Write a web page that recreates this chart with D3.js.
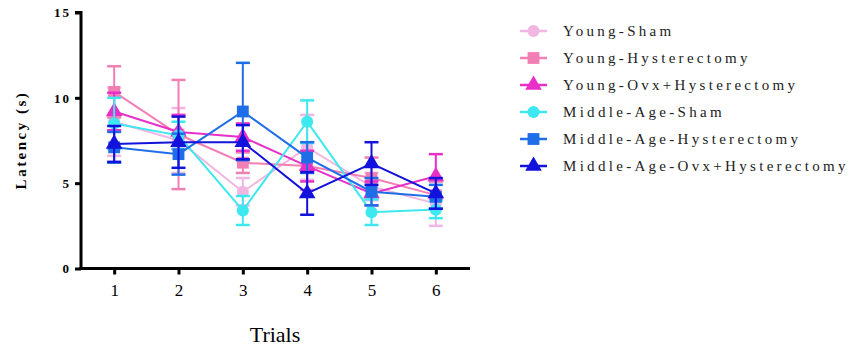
<!DOCTYPE html>
<html><head><meta charset="utf-8">
<script src="https://cdn.jsdelivr.net/npm/d3@7"></script>
<style>body{margin:0;background:#fff}svg{display:block}</style>
</head><body>
<script>
const trials = [1, 2, 3, 4, 5, 6];
const yTicks = [0, 5, 10, 15];
const seriesNames = ["Young-Sham", "Young-Hysterectomy", "Young-Ovx+Hysterectomy", "Middle-Age-Sham", "Middle-Age-Hysterectomy", "Middle-Age-Ovx+Hysterectomy"];
const seriesColors = ["#f2b6e2", "#f27fb4", "#e830c8", "#3ee8f0", "#1f6ee8", "#1212dc"];
const seriesShapes = ["circle", "square", "triangle", "circle", "square", "triangle"];
const youngSham = [8.6, 7.5, 4.5, 7.1, 4.8, 3.8];
const youngSham_sem = [2.0, 1.9, 0.8, 1.9, 0.8, 1.3];
const youngHyst = [10.35, 7.85, 6.2, 6.0, 5.3, 4.3];
const youngHyst_sem = [1.5, 3.2, 0.6, 1.4, 1.2, 0.8];
const youngOvx = [9.2, 8.0, 7.7, 6.0, 4.4, 5.4];
const youngOvx_sem = [1.1, 1.0, 0.8, 0.9, 0.7, 1.3];
const middleSham = [8.5, 7.8, 3.4, 8.6, 3.3, 3.45];
const middleSham_sem = [1.5, 0.8, 0.85, 1.25, 0.75, 0.5];
const middleHyst = [7.1, 6.7, 9.2, 6.5, 4.5, 4.2];
const middleHyst_sem = [0.9, 1.2, 2.85, 0.9, 0.8, 0.7];
const middleOvx = [7.3, 7.4, 7.4, 4.4, 6.15, 4.4];
const middleOvx_sem = [1.05, 1.5, 1.0, 1.25, 1.25, 0.9];

const means = [youngSham, youngHyst, youngOvx, middleSham, middleHyst, middleOvx];
const sems = [youngSham_sem, youngHyst_sem, youngOvx_sem, middleSham_sem, middleHyst_sem, middleOvx_sem];

const FONT = "Liberation Serif";
const W = 852, H = 350;
const svg = d3.select("body").append("svg").attr("width", W).attr("height", H);
const x = d3.scaleLinear().domain([0.5, 6.5]).range([82, 468]);
const y = d3.scaleLinear().domain([0, 15]).range([268.5, 12.5]);

const symbolFor = s => s === "circle" ? d3.symbolCircle : s === "square" ? d3.symbolSquare : d3.symbolTriangle;
const sizeFor = s => s === "circle" ? 115 : s === "square" ? 140 : 120;

const series = seriesNames.map((n, i) => ({
  name: n, color: seriesColors[i], shape: seriesShapes[i],
  pts: trials.map((t, j) => ({t, m: means[i][j], e: sems[i][j]}))
}));

const plot = svg.append("g");
const line = d3.line().x(d => x(d.t)).y(d => y(d.m));
series.forEach(s => {
  const g = plot.append("g");
  s.pts.forEach(p => {
    g.append("line").attr("x1", x(p.t)).attr("x2", x(p.t)).attr("y1", y(p.m - p.e)).attr("y2", y(p.m + p.e))
      .attr("stroke", s.color).attr("stroke-width", 2);
    [p.m - p.e, p.m + p.e].forEach(v => {
      g.append("line").attr("x1", x(p.t) - 7).attr("x2", x(p.t) + 7).attr("y1", y(v)).attr("y2", y(v))
        .attr("stroke", s.color).attr("stroke-width", 2.5);
    });
  });
  g.append("path").datum(s.pts).attr("d", line).attr("fill", "none").attr("stroke", s.color).attr("stroke-width", 2);
  g.selectAll("path.m").data(s.pts).join("path").attr("class", "m")
    .attr("transform", p => `translate(${x(p.t)},${y(p.m)})`)
    .attr("d", d3.symbol(symbolFor(s.shape), sizeFor(s.shape)))
    .attr("fill", s.color);
});

const yAxis = svg.append("g").attr("transform", "translate(81,0)")
  .call(d3.axisLeft(y).tickValues(yTicks).tickSize(6).tickFormat(d3.format("d")));
yAxis.attr("font-family", null).style("font-family", FONT);
yAxis.select(".domain").attr("stroke", "#000").attr("stroke-width", 3).attr("d", `M-6,${y(15)}H0V${y(0)+1.5}`);
yAxis.selectAll(".tick line").attr("stroke", "#000").attr("stroke-width", 3);
yAxis.selectAll(".tick text").style("font-family", FONT).style("font-weight", "bold")
  .style("font-size", "13px").style("letter-spacing", "2px").attr("x", -10).attr("fill", "#000");

const xAxis = svg.append("g").attr("transform", "translate(0,268.5)")
  .call(d3.axisBottom(x).tickValues(trials).tickSize(6).tickFormat(d3.format("d")));
xAxis.attr("font-family", null).style("font-family", FONT);
xAxis.select(".domain").attr("stroke", "#000").attr("stroke-width", 3).attr("d", `M79.5,0H470`);
xAxis.selectAll(".tick line").attr("stroke", "#000").attr("stroke-width", 3);
xAxis.selectAll(".tick text").style("font-family", FONT)
  .style("font-size", "17px").attr("y", 15).attr("fill", "#000");

svg.append("text").attr("x", 275).attr("y", 342).attr("text-anchor", "middle")
  .style("font-family", FONT).style("font-size", "22px").text("Trials");

svg.append("text").attr("transform", "translate(26,140) rotate(-90)").attr("text-anchor", "middle")
  .style("font-family", FONT).style("font-weight", "bold")
  .style("font-size", "15px").style("letter-spacing", "2.5px").text("Latency (s)");

const leg = svg.append("g");
series.forEach((s, i) => {
  const yy = 31 + i * 27;
  leg.append("line").attr("x1", 520).attr("x2", 547).attr("y1", yy).attr("y2", yy).attr("stroke", s.color).attr("stroke-width", 2.5);
  leg.append("path").attr("transform", `translate(533.5,${yy})`).attr("d", d3.symbol(symbolFor(s.shape), sizeFor(s.shape))).attr("fill", s.color);
  leg.append("text").attr("x", 563).attr("y", yy + 5).style("font-family", FONT)
    .style("font-size", "15px").style("letter-spacing", "3.3px").attr("fill", "#222").text(s.name);
});
</script>
</body></html>
